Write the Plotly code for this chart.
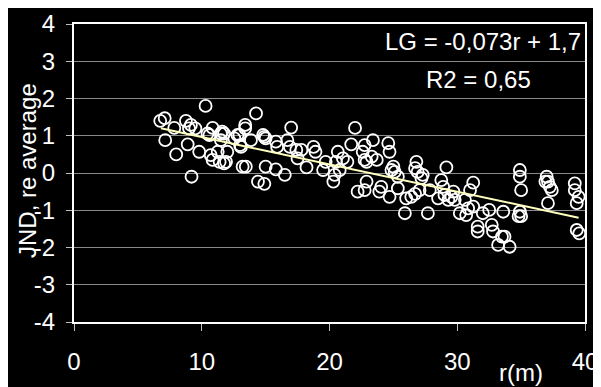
import plotly.graph_objects as go

# Data
r_m = [
    6.75, 7.1, 7.85, 8.76, 9.15, 9.5, 7.14, 8.0, 8.9, 9.8, 9.2, 10.3, 10.85, 10.6, 10.7, 11.25, 11.5, 11.4,
    9.0, 10.45, 11.6, 11.5, 10.85, 11.75, 12.55, 12.95, 13.07,
    14.25, 13.4, 12.8, 13.4, 11.75, 12.0, 11.9, 13.0, 13.85, 13.2, 13.45, 14.4, 14.9, 15.0, 15.8, 16.5,
    14.9, 15.0, 14.8, 15.8, 15.9, 17.0, 16.7, 16.9, 17.4, 17.5,
    17.8, 18.75, 18.9, 18.2, 19.5, 19.7, 20.65, 20.5, 20.8, 20.4, 20.3, 21.4, 21.05, 22.0, 21.7,
    22.75, 22.6, 22.9, 22.75, 23.4, 22.2, 22.75, 22.9, 23.3,
    23.7, 24.6, 24.7, 25.0, 24.85, 25.1, 25.35, 24.05, 23.9, 24.7, 25.35, 25.9, 26.0, 26.4, 26.7,
    26.8, 26.7, 26.9, 27.3, 27.2, 27.05, 27.7, 27.85, 28.75, 28.9, 29.15, 28.5, 29.0, 29.3,
    29.55, 29.8, 29.7, 31.25, 31.0, 30.6, 30.85, 30.2, 30.7, 31.25, 31.6, 31.6, 32.0, 32.5, 32.7, 32.8,
    33.6, 33.2, 33.5, 33.7, 34.1, 34.9, 34.9, 35.0, 34.8, 34.9, 35.0,
    37.0, 37.1, 37.25, 36.9, 37.4, 37.1, 39.2, 39.2, 39.5, 39.35, 39.35, 39.55,
]
jnd_re_avg = [
    1.40, 1.47, 1.21, 1.40, 1.29, 1.20, 0.88, 0.50, 0.77, 0.57, -0.10, 1.80, 1.21, 1.02, 0.48, 0.57, 1.06, 0.30,
    1.20, 1.06, 1.11, 0.88, 0.35, 0.26, 0.93, 1.02, 0.70,
    1.60, 1.29, 1.02, 1.20, 1.06, 0.57, 0.30, 0.75, 0.88, 0.17, 0.17, -0.23, -0.29, 0.17, 0.10, -0.05,
    0.97, 0.93, 1.02, 0.84, 0.70, 1.22, 0.88, 0.70, 0.62, 0.39,
    0.62, 0.70, 0.57, 0.15, 0.08, 0.30, 0.57, 0.30, 0.08, -0.05, -0.23, 0.30, 0.39, 1.21, 0.77,
    0.75, 0.57, 0.30, 0.35, 0.88, -0.50, -0.46, -0.23, 0.44,
    0.35, 0.80, 0.57, 0.17, 0.08, 0.03, -0.10, -0.37, -0.50, -0.64, -0.41, -1.08, -0.68, -0.64, -0.56,
    0.30, 0.13, 0.03, -0.05, -0.14, -0.46, -1.08, -0.46, -0.19, -0.37, 0.15, -0.68, -0.59, -0.72,
    -0.64, -0.72, -0.50, -0.26, -0.46, -0.72, -0.95, -1.08, -1.13, -0.90, -1.44, -1.57, -1.08, -0.99, -1.39, -1.57,
    -1.04, -1.93, -1.71, -1.71, -1.98, 0.08, -0.10, -0.46, -1.16, -1.04, -1.16,
    -0.10, -0.23, -0.37, -0.23, -0.46, -0.81, -0.28, -0.46, -0.64, -0.81, -1.53, -1.62,
]
trend_r = [6.8, 39.5]
trend_y = [1.2, -1.2]
x_ticks = [0, 10, 20, 30, 40]
y_ticks = [-4, -3, -2, -1, 0, 1, 2, 3, 4]
y_tick_labels = ["-4", "-3", "-2", "-1", "0", "1", "2", "3", "4"]

FONT = "Liberation Sans, Arial, sans-serif"
FS = 24

fig = go.Figure()
fig.add_trace(go.Scatter(
    x=r_m, y=jnd_re_avg, mode="markers",
    marker=dict(symbol="circle-open", size=12, color="white", line=dict(width=1.8, color="white")),
    showlegend=False, hoverinfo="skip", cliponaxis=False,
))
fig.add_trace(go.Scatter(
    x=trend_r, y=trend_y, mode="lines",
    line=dict(color="#FFFFC0", width=2),
    showlegend=False, hoverinfo="skip",
))

# page body has an 8px margin, so the figure is sized to end at the window edge
fig.update_layout(
    width=593, height=379,
    paper_bgcolor="black", plot_bgcolor="black",
    margin=dict(l=66, r=16, t=16, b=65, autoexpand=False),
    font=dict(family=FONT, size=FS, color="white"),
    xaxis=dict(
        range=[0, 40], tickvals=x_ticks, ticks="outside", ticklen=7, tickcolor="#c0c0c0", tickwidth=1,
        showgrid=False, zeroline=False, showline=True, linecolor="white", linewidth=2, mirror=True,
        tickfont=dict(family=FONT, size=FS, color="white"), ticklabelstandoff=10, automargin=False,
    ),
    yaxis=dict(
        range=[-4, 4], tickvals=y_ticks, ticktext=y_tick_labels, ticks="outside", ticklen=6,
        tickcolor="#c0c0c0", tickwidth=1,
        showgrid=True, gridcolor="#8a8a8a", gridwidth=1, zeroline=False,
        showline=True, linecolor="white", linewidth=2, mirror=True,
        tickfont=dict(family=FONT, size=FS, color="white"), ticklabelstandoff=6, automargin=False,
    ),
    annotations=[
        dict(text="LG = -0,073r + 1,7", x=39.85, y=3.52, xref="x", yref="y",
             xanchor="right", yanchor="middle", showarrow=False, font=dict(family=FONT, size=FS, color="white")),
        dict(text="R2 = 0,65", x=35.95, y=2.5, xref="x", yref="y",
             xanchor="right", yanchor="middle", showarrow=False, font=dict(family=FONT, size=FS, color="white")),
        dict(text="JND, re average", x=-0.092, y=0.51, xref="paper", yref="paper", textangle=-90,
             xanchor="center", yanchor="middle", showarrow=False, font=dict(family=FONT, size=FS, color="white")),
        dict(text="r(m)", x=0.875, y=-0.171, xref="paper", yref="paper",
             xanchor="center", yanchor="middle", showarrow=False, font=dict(family=FONT, size=FS, color="white")),
    ],
)

fig.write_html("out.html")
